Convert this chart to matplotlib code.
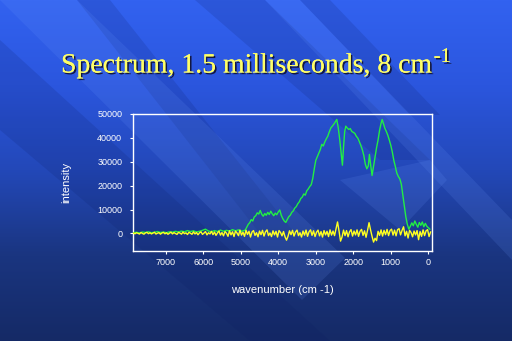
import numpy as np
import matplotlib
matplotlib.use("Agg")
import matplotlib.pyplot as plt
from matplotlib.patches import Polygon
import matplotlib.patheffects as pe
from matplotlib.colors import LinearSegmentedColormap

title_main = "Spectrum, 1.5 milliseconds, 8 cm"
title_sup = "-1"
xlabel = "wavenumber (cm -1)"
ylabel = "intensity"
xticks = [7000, 6000, 5000, 4000, 3000, 2000, 1000, 0]
yticks = [0, 10000, 20000, 30000, 40000, 50000]

green_wn = [7860, 7780, 7700, 7620, 7540, 7460, 7380, 7300, 7220, 7140, 7060, 6980, 6900, 6820,
            6740, 6660, 6580, 6500, 6420, 6340, 6260, 6180, 6100, 6020, 5940, 5860, 5780, 5700,
            5620, 5540, 5460, 5380, 5300, 5220, 5140, 5060, 4980, 4920,
            4880, 4840, 4800, 4760, 4720, 4680, 4640, 4600, 4560, 4520, 4480, 4440, 4400, 4360,
            4320, 4280, 4240, 4200, 4160, 4120, 4080, 4040, 4000, 3960, 3920, 3880, 3840, 3800,
            3760, 3720, 3680, 3640, 3600, 3560, 3520, 3480, 3440, 3400, 3360, 3320, 3280, 3240,
            3200, 3160, 3120, 3080, 3040, 3000, 2960, 2920, 2880, 2840, 2800, 2760, 2720, 2680,
            2640, 2600, 2560, 2520, 2480, 2440, 2400, 2360, 2320, 2290, 2260, 2230, 2200, 2160,
            2120, 2080, 2040, 2000, 1960, 1920, 1880, 1840, 1800, 1760, 1720, 1680, 1640, 1600,
            1570, 1540, 1500, 1460, 1420, 1380, 1340, 1300, 1260, 1230, 1200, 1160, 1120, 1080,
            1040, 1000, 960, 920, 880, 840, 800, 760, 720, 680, 640, 600, 560, 520, 480, 440,
            400, 360, 320, 280, 240, 200, 160, 120, 80, 40, 0, -40]
green_val = [300, 500, 200, 600, 400, 700, 300, 500, 800, 400, 600, 300, 700, 500,
             900, 600, 1000, 700, 1200, 800, 1100, 600, 900, 1300, 1800, 1000, 700, 1200,
             800, 1400, 900, 1300, 1000, 1600, 1100, 1500, 900, 1200,
             1400, 2600, 3800, 4500, 5800, 5200, 6900, 7400, 8600, 8100, 9600, 8000, 7200, 8300,
             7600, 8800, 7900, 9300, 8200, 7400, 8500, 7800, 9000, 9800, 7600, 6200, 5200, 4600,
             5800, 7000, 7600, 8800, 9400, 10600, 11200, 12400, 13200, 14600, 15200, 16500, 16000, 17800,
             18600, 19600, 20400, 23000, 27000, 30500, 32000, 33600, 35000, 37200, 36500, 38200, 39500, 40600,
             42400, 44000, 44800, 45600, 46600, 47600, 44000, 39000, 33000, 28500, 36000, 42500, 44800, 44000,
             43400, 43800, 42600, 42200, 41800, 40600, 39800, 38400, 36800, 35000, 32600, 29000, 27000, 28200,
             33000, 29000, 24200, 28000, 32000, 35800, 39000, 43000, 46000, 47600, 46000, 44000, 42600, 41000,
             39000, 36800, 34000, 30500, 28000, 25200, 23800, 22800, 20600, 16000, 11500, 7000, 3800, 1800, 3000, 4400,
             3200, 5200, 3800, 2600, 4600, 3400, 4800, 2800, 4200, 3000, 2400, 1800]

yellow_start = 7860
yellow_step = -40
yellow_val = [200, -150, 300, 50, -250, 400, 0, -300, 250, 450, -100, 300, -200, 150, 500, -250, 100, 350, -300, 200,
              450, -150, 300, -350, 100, 550, -200, 350, 0, -400, 450, 150, -300, 600, -100, 250, -450, 500, 100, -350,
              650, -200, 400, -550, 250, 700, -400, 150, 800, -600, 300, -200, 900, -500, 600, -800, 200, 1000, -700, 400,
              -1000, 800, 100, -1200, 1100, -600, 700, -1300, 1000, 200, -900, 1400, -700, 500, -1200, 1300, -400, 900, -1500, 600,
              1200, -800, 300, -1400, 1000, -500, 1300, -1100, 700, 1500, -900, 200, -1300, 1100, -600, 900, -1500, 1200, 400, -1000,
              800, -1400, -2800, -1200, 1100, -500, 1300, -1100, 600, 1400, -900, 300, -1500, 1000, -700, 1400, -1200, 700, 1500, -800,
              1100, -1300, 500, 1400, -1000, 800, -1500, 1200, -600, 900, -1300, 1500, -700, 1000, -900, 2000, 4800, 1000, -3200, -1500,
              1400, -900, 1200, -1400, 700, 1600, -1100, 1000, -600, 1500, -1200, 900, 1700, -800, 1100, -1600, 1300, 4500, 1500, -1200,
              -3600, -2000, -3000, 900, -800, 1500, -1100, 1300, -500, 1700, -900, 1200, 1800, -700, 1400, -1000, 1600, 2000, -600, 1300,
              2800, -1000, 900, -1900, 1300, 400, -1400, 1000, -600, 1200, -2600, 800, -1200, 1500, -900, 1100, 1600, -1300, 600]
yellow_wn = yellow_start + yellow_step * np.arange(len(yellow_val))

W, H = 512, 341
fig = plt.figure(figsize=(W / 100, H / 100), dpi=100)

# background
bg = fig.add_axes([0, 0, 1, 1])
bg.set_xlim(0, W)
bg.set_ylim(H, 0)
bg.axis("off")
cmap = LinearSegmentedColormap.from_list("bgc", ["#3262f0", "#2b56de", "#2348b8", "#1a3580", "#152a66"])
grad = np.linspace(0, 1, 256).reshape(-1, 1)
bg.imshow(grad, extent=[0, W, H, 0], cmap=cmap, aspect="auto", zorder=0)
dark = [[(0, 40), (0, 130), (250, 341), (330, 341)],
        [(77, 0), (110, 0), (300, 240), (265, 240)],
        [(195, 0), (265, 0), (430, 160), (380, 160)],
        [(300, 0), (330, 0), (440, 115), (410, 115)]]
light = [[(43, 0), (77, 0), (345, 258), (302, 300), (0, 0)],
         [(265, 0), (300, 0), (512, 220), (512, 260)],
         [(340, 180), (430, 160), (447, 180), (400, 230)]]
for p in dark:
    bg.add_patch(Polygon(p, closed=True, fc="#0a1a60", alpha=0.15, ec="none", zorder=1))
for p in light:
    bg.add_patch(Polygon(p, closed=True, fc="#6e9bff", alpha=0.14, ec="none", zorder=1))

shadow = [pe.withSimplePatchShadow(offset=(1.2, -1.2), shadow_rgbFace="#101030", alpha=0.9), pe.Normal()]
t = fig.text(61 / W, 1 - 72.5 / H, title_main, family="Liberation Serif", fontsize=20,
             color="#ffff66", ha="left", va="baseline", path_effects=shadow)
fig.canvas.draw()
ext = t.get_window_extent()
fig.text(ext.x1 / W + 0.002, 1 - 62 / H, title_sup, family="Liberation Serif", fontsize=15,
         color="#ffff66", ha="left", va="baseline", path_effects=shadow)

ax = fig.add_axes([132.7 / W, 1 - 250.7 / H, 299 / W, 137 / H])
ax.patch.set_alpha(0)
ax.plot(green_wn, green_val, color="#22ee44", lw=1.0, zorder=3)
ax.plot(yellow_wn, yellow_val, color="#ffff22", lw=1.0, zorder=4)
ax.set_xlim(7880, -90)
ax.set_ylim(-7200, 49300)
ax.set_xticks(xticks)
ax.set_yticks(yticks)
ax.set_xticklabels([str(v) for v in xticks])
ax.set_yticklabels([str(v) for v in yticks])
for s in ax.spines.values():
    s.set_color("white")
    s.set_linewidth(1.0)
ax.tick_params(colors="white", labelsize=6.5, length=2.5, width=0.8)
for lab in ax.get_xticklabels() + ax.get_yticklabels():
    lab.set_family("Liberation Sans")
ax.tick_params(axis="x", pad=3)
ax.tick_params(axis="y", pad=5)
ax.set_xlabel(xlabel, family="Liberation Sans", fontsize=8, color="white", labelpad=13)
ax.set_ylabel(ylabel, family="Liberation Sans", fontsize=8, color="white", labelpad=19)

fig.savefig("out.png", dpi=100)
